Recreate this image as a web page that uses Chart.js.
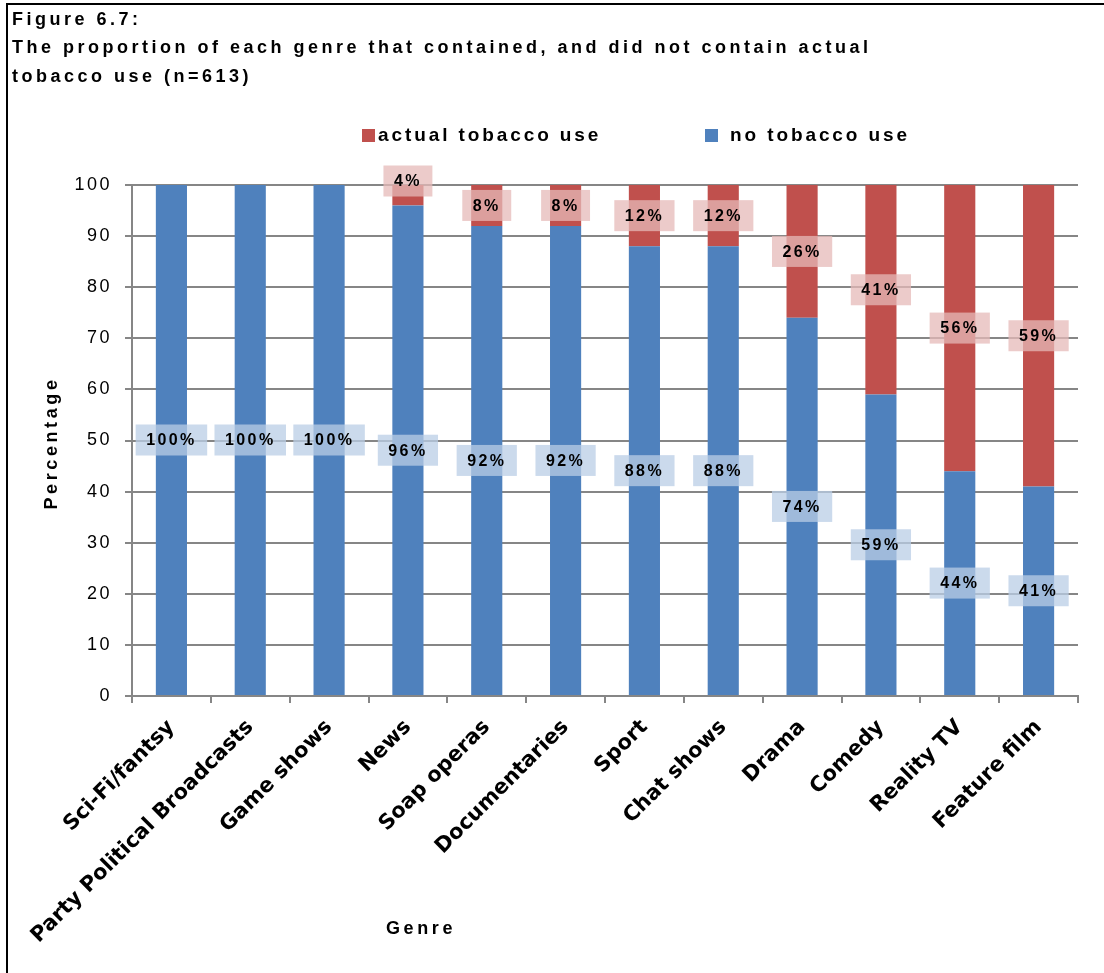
<!DOCTYPE html>
<html>
<head>
<meta charset="utf-8">
<script src="https://cdn.jsdelivr.net/npm/chart.js@4.4.0/dist/chart.umd.min.js"></script>
<style>
  body { margin: 0; background: #fff; }
  canvas { display: block; }
</style>
</head>
<body>
<canvas id="chart" width="1104" height="973"></canvas>
<script>
// Figure 6.7 data
const genres = ['Sci-Fi/fantsy', 'Party Political Broadcasts', 'Game shows', 'News', 'Soap operas',
    'Documentaries', 'Sport', 'Chat shows', 'Drama', 'Comedy', 'Reality TV', 'Feature film'];
const noTobacco = [100, 100, 100, 96, 92, 92, 88, 88, 74, 59, 44, 41];
const actualTobacco = [0, 0, 0, 4, 8, 8, 12, 12, 26, 41, 56, 59];
const titleLines = ['Figure 6.7:',
    'The proportion of each genre that contained, and did not contain actual',
    'tobacco use (n=613)'];

const BLUE = '#4F81BD';
const RED = '#C0504D';
const GRID = '#868686';
const ARIAL = '"Liberation Sans", Arial, sans-serif';

const decor = {
    id: 'decor',
    beforeDraw(chart) {
        // y tick labels are drawn with this spacing
        chart.ctx.letterSpacing = '2.5px';
    },
    afterDatasetsDraw(chart) {
        const ctx = chart.ctx;
        ctx.save();
        ctx.font = 'bold 16px ' + ARIAL;
        ctx.letterSpacing = '2.4px';
        ctx.textAlign = 'center';
        ctx.textBaseline = 'middle';
        chart.data.datasets.forEach((ds, di) => {
            const meta = chart.getDatasetMeta(di);
            meta.data.forEach((bar, i) => {
                const v = ds.data[i];
                if (!v) return;
                const txt = v + '%';
                const w = ctx.measureText(txt).width + 21;
                const h = 31;
                let cy = (bar.y + bar.base) / 2;
                if (Math.abs(bar.base - bar.y) < h) cy = bar.y - 4;
                ctx.fillStyle = ds.labelBox;
                ctx.fillRect(bar.x - w / 2, cy - h / 2, w, h);
                ctx.fillStyle = '#000';
                ctx.fillText(txt, bar.x, cy + 1);
            });
        });
        ctx.restore();
        // x tick labels (ticks z=1) are drawn after this hook
        ctx.letterSpacing = '0px';
    },
    afterDraw(chart) {
        const ctx = chart.ctx;
        ctx.save();
        ctx.letterSpacing = '0px';
        // frame
        ctx.strokeStyle = '#000';
        ctx.lineWidth = 2;
        ctx.beginPath();
        ctx.moveTo(1104, 4);
        ctx.lineTo(7, 4);
        ctx.lineTo(7, 973);
        ctx.stroke();

        ctx.fillStyle = '#000';
        ctx.textBaseline = 'middle';
        ctx.textAlign = 'left';
        ctx.font = 'bold 18px ' + ARIAL;
        ctx.letterSpacing = '3.5px';
        titleLines.forEach((line, i) => ctx.fillText(line, 12, 20 + i * 28.5));

        // legend
        ctx.font = 'bold 19px ' + ARIAL;
        ctx.letterSpacing = '2.9px';
        ctx.fillStyle = RED;
        ctx.fillRect(362, 129, 13, 13);
        ctx.fillStyle = '#000';
        ctx.fillText('actual tobacco use', 378, 136);
        ctx.fillStyle = BLUE;
        ctx.fillRect(705, 129, 13, 13);
        ctx.fillStyle = '#000';
        ctx.fillText('no tobacco use', 730, 136);

        // axis titles
        ctx.font = 'bold 18px ' + ARIAL;
        ctx.letterSpacing = '3.6px';
        ctx.textAlign = 'center';
        ctx.fillText('Genre', 421, 929);
        ctx.translate(52, 443);
        ctx.rotate(-Math.PI / 2);
        ctx.fillText('Percentage', 0, 0);
        ctx.restore();
    }
};

new Chart(document.getElementById('chart'), {
    type: 'bar',
    data: {
        labels: genres,
        datasets: [
            { label: 'no tobacco use', data: noTobacco, backgroundColor: BLUE,
              labelBox: 'rgba(185,205,229,0.75)' },
            { label: 'actual tobacco use', data: actualTobacco, backgroundColor: RED,
              labelBox: 'rgba(230,185,184,0.75)' }
        ]
    },
    options: {
        responsive: false,
        animation: false,
        layout: { padding: { top: 185, left: 0, right: 26, bottom: 0 } },
        categoryPercentage: 1,
        barPercentage: 0.395,
        plugins: { legend: { display: false }, tooltip: { enabled: false } },
        scales: {
            x: {
                stacked: true,
                afterFit: s => { s.height = 277; },
                grid: { drawOnChartArea: false, drawTicks: true, tickLength: 7,
                        color: GRID, lineWidth: 2 },
                border: { color: GRID, width: 2 },
                ticks: {
                    z: 1,
                    autoSkip: false, maxRotation: 45, minRotation: 45, padding: 12,
                    color: '#000', font: { family: '"DejaVu Sans"', size: 21, weight: 'bold' }
                }
            },
            y: {
                stacked: true,
                min: 0,
                max: 100,
                afterFit: s => { s.width = 132; },
                grid: { color: GRID, lineWidth: 2, tickLength: 7 },
                border: { color: GRID, width: 2 },
                ticks: {
                    stepSize: 10, padding: 13, color: '#000',
                    font: { family: ARIAL, size: 18 }
                }
            }
        }
    },
    plugins: [decor]
});
</script>
</body>
</html>
